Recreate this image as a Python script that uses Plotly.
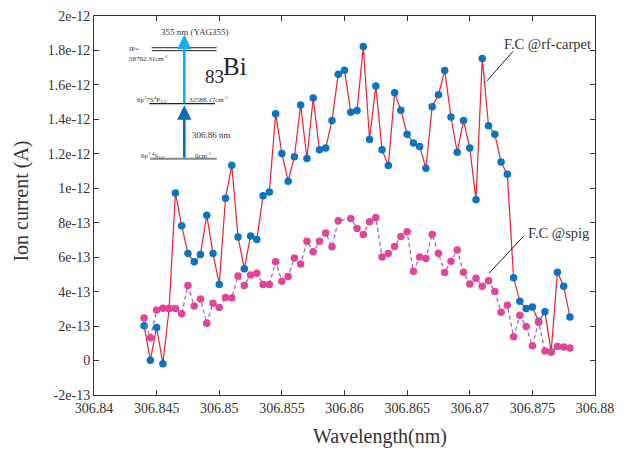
import plotly.graph_objects as go

# ---------------- data ----------------
wl_carpet = [306.8440, 306.8445, 306.8450, 306.8455, 306.8460, 306.8465, 306.8470, 306.8475,
             306.8480, 306.8485, 306.8490, 306.8495, 306.8500, 306.8505, 306.8510, 306.8515,
             306.8520, 306.8525, 306.8530, 306.8535, 306.8540, 306.8545, 306.8550, 306.8555,
             306.8560, 306.8565, 306.8570, 306.8575, 306.8580, 306.8585, 306.8590, 306.8595,
             306.8600, 306.8605, 306.8610, 306.8615, 306.8620, 306.8625, 306.8630, 306.8635,
             306.8640, 306.8645, 306.8650, 306.8655, 306.8660, 306.8665, 306.8670, 306.8675,
             306.8680, 306.8685, 306.8690, 306.8695, 306.8700, 306.8705, 306.8710, 306.8715,
             306.8720, 306.8725, 306.8730, 306.8735, 306.8740, 306.8745, 306.8750, 306.8755,
             306.8760, 306.8765, 306.8770, 306.8775, 306.8780]
# ion current, units of 1e-13 A
carpet_e13 = [2.02, 0.01, 1.92, -0.18, 3.02, 9.73, 7.83, 6.22, 5.73, 6.15, 8.44, 6.22,
              4.42, 9.42, 11.34, 7.17, 5.33, 7.23, 7.03, 9.57, 9.78, 14.33, 12.02, 10.41,
              11.83, 14.84, 11.73, 15.24, 12.23, 12.34, 13.93, 16.62, 16.85, 14.42, 14.52, 18.23,
              12.83, 15.94, 12.23, 11.32, 15.54, 14.53, 13.14, 12.63, 12.43, 11.16, 14.73, 15.43,
              16.83, 14.14, 12.09, 13.93, 12.34, 9.33, 17.53, 13.63, 13.14, 11.52, 10.82, 4.80,
              3.44, 3.02, 3.11, 2.26, 2.83, 0.50, 5.13, 4.31, 2.53]

wl_spig = [306.8440, 306.8445, 306.8450, 306.8455, 306.8460, 306.8465, 306.8470, 306.8475,
           306.8480, 306.8485, 306.8490, 306.8495, 306.8500, 306.8505, 306.8510, 306.8515,
           306.8520, 306.8525, 306.8530, 306.8535, 306.8540, 306.8545, 306.8550, 306.8555,
           306.8560, 306.8565, 306.8570, 306.8575, 306.8580, 306.8585, 306.8590, 306.8595,
           306.8605, 306.8610, 306.8615, 306.8620, 306.8625, 306.8630, 306.8635,
           306.8640, 306.8645, 306.8650, 306.8655, 306.8660, 306.8665, 306.8670, 306.8675,
           306.8680, 306.8685, 306.8690, 306.8695, 306.8700, 306.8705, 306.8710, 306.8715,
           306.8720, 306.8725, 306.8730, 306.8735, 306.8740, 306.8745, 306.8750, 306.8755,
           306.8760, 306.8765, 306.8770, 306.8775, 306.8780]
spig_e13 = [2.47, 1.32, 2.93, 3.04, 3.02, 3.02, 2.72, 4.36, 3.17, 3.57, 2.17, 3.32,
            3.08, 3.66, 3.63, 4.91, 4.36, 4.97, 5.07, 4.42, 4.42, 5.73, 4.61, 4.88,
            5.95, 5.61, 6.92, 6.32, 6.92, 7.41, 6.60, 8.11, 8.25, 7.66, 7.32,
            8.06, 8.31, 6.01, 6.22, 6.62, 7.20, 7.47, 5.18, 6.01, 5.92, 7.32, 6.22,
            5.11, 5.77, 6.41, 5.13, 4.44, 4.78, 4.31, 4.63, 4.01, 2.80, 3.21, 1.38,
            2.63, 1.98, 0.86, 2.23, 0.56, 0.50, 0.82, 0.78, 0.73]

x_ticks = [306.84, 306.845, 306.85, 306.855, 306.86, 306.865, 306.87, 306.875, 306.88]
x_tick_labels = ["306.84", "306.845", "306.85", "306.855", "306.86", "306.865",
                 "306.87", "306.875", "306.88"]
y_ticks = [-2e-13, 0, 2e-13, 4e-13, 6e-13, 8e-13, 1e-12, 1.2e-12, 1.4e-12, 1.6e-12, 1.8e-12, 2e-12]
y_tick_labels = ["-2e-13", "0", "2e-13", "4e-13", "6e-13", "8e-13", "1e-12",
                 "1.2e-12", "1.4e-12", "1.6e-12", "1.8e-12", "2e-12"]

carpet = [v * 1e-13 for v in carpet_e13]
spig = [v * 1e-13 for v in spig_e13]

FONT = "Liberation Serif"
W, H = 631, 454
L, R, T, B = 94, 595, 9, 395

def px(x):
    return (x - L) / (R - L)

def py(y):
    return (B - y) / (B - T)

fig = go.Figure()
fig.add_trace(go.Scatter(
    x=wl_carpet, y=carpet, mode="lines+markers",
    line=dict(color="#E8222E", width=1.2),
    marker=dict(color="#0A74C0", size=7.5),
    name="F.C @rf-carpet"))
fig.add_trace(go.Scatter(
    x=wl_spig, y=spig, mode="lines+markers",
    line=dict(color="#A066C0", width=1.3, dash="4px,3px"),
    marker=dict(color="#E2449A", size=7.5),
    name="F.C @spig"))

shapes = []
annots = []

def hline(x0, x1, y, color="#222", width=1.0):
    shapes.append(dict(type="line", xref="paper", yref="paper",
                       x0=px(x0), x1=px(x1), y0=py(y), y1=py(y),
                       line=dict(color=color, width=width)))

def seg(x0, y0, x1, y1, color="#222", width=1.0):
    shapes.append(dict(type="line", xref="paper", yref="paper",
                       x0=px(x0), x1=px(x1), y0=py(y0), y1=py(y1),
                       line=dict(color=color, width=width)))

def text(x, y, s, size, xanchor="left", color="#333"):
    annots.append(dict(xref="paper", yref="paper", x=px(x), y=py(y), text=s,
                       showarrow=False, xanchor=xanchor, yanchor="middle",
                       font=dict(family=FONT, size=size, color=color)))

# energy level diagram
hline(151.7, 216.7, 41.3)
hline(151.7, 216.7, 44.3)
hline(149.3, 215.0, 98.3, width=1.2)
hline(150.0, 216.7, 154.3, color="#888888", width=2)

annots.append(dict(xref="paper", yref="paper", x=px(184.3), y=py(100),
                   ax=0, ay=54, axref="pixel", ayref="pixel", text="",
                   showarrow=True, arrowhead=2, arrowsize=1.1, arrowwidth=2.6,
                   arrowcolor="#0A6EBD"))
annots.append(dict(xref="paper", yref="paper", x=px(184.3), y=py(28),
                   ax=0, ay=70, axref="pixel", ayref="pixel", text="",
                   showarrow=True, arrowhead=2, arrowsize=1.1, arrowwidth=2.6,
                   arrowcolor="#12AEE8"))

text(195, 25, "355 nm (YAG355)", 9, xanchor="center")
text(127, 43, "IP=", 7)
text(127, 52, "58762.31cm<sup>-1</sup>", 7)
text(214, 71, "83", 19, xanchor="center", color="#222")
text(235, 60, "Bi", 25, xanchor="center", color="#222")
text(135, 94.5, "6p<sup>2</sup>7S<sup>4</sup>P<sub>1/2</sub>", 7)
text(187, 94.5, "32588.17cm<sup>-1</sup>", 7)
text(190, 130, "306.86 nm", 9)
text(139, 151, "6p<sup>3 4</sup>S<sub>3/2</sub>", 7)
text(193, 151, "0cm<sup>-1</sup>", 7)

# series labels
text(502, 38, "F.C @rf-carpet", 14.5)
seg(513, 45, 487, 75)
text(526, 230, "F.C @spig", 14.5)
seg(523, 234, 489, 271)

# axis titles
annots.append(dict(xref="paper", yref="paper", x=px(380), y=py(437), text="Wavelength(nm)",
                   showarrow=False, xanchor="center", yanchor="middle",
                   font=dict(family=FONT, size=20, color="#333")))
annots.append(dict(xref="paper", yref="paper", x=px(22), y=py(198), text="Ion current (A)",
                   showarrow=False, xanchor="center", yanchor="middle", textangle=-90,
                   font=dict(family=FONT, size=20, color="#333")))

axis_common = dict(showgrid=False, zeroline=False, showline=True, linecolor="#333",
                   linewidth=1, mirror="ticks", ticks="inside", ticklen=5,
                   tickcolor="#333", tickfont=dict(family=FONT, size=14, color="#333"))

fig.update_layout(
    width=W, height=H,
    margin=dict(l=L, r=W - R, t=T, b=H - B),
    plot_bgcolor="white", paper_bgcolor="white",
    showlegend=False,
    shapes=shapes, annotations=annots,
    xaxis=dict(range=[306.84, 306.88], tickvals=x_ticks, ticktext=x_tick_labels, **axis_common),
    yaxis=dict(range=[-2e-13, 2e-12], tickvals=y_ticks, ticktext=y_tick_labels, **axis_common),
)

fig.write_html("out.html", config={"displayModeBar": False},
               post_script="document.body.style.margin='0';")
